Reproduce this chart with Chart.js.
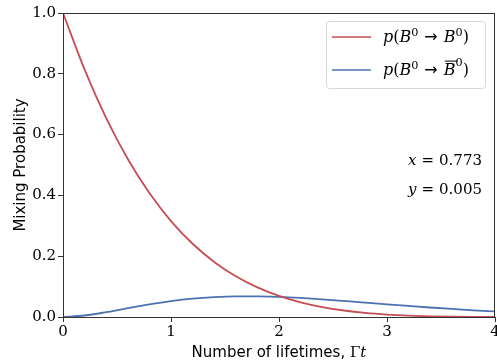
<!DOCTYPE html>
<html>
<head>
<meta charset="utf-8">
<script src="https://cdn.jsdelivr.net/npm/chart.js@4.4.1/dist/chart.umd.min.js"></script>
<style>
  html, body { margin: 0; padding: 0; background: #fff; }
  #wrap { width: 497px; height: 362px; position: relative; }
</style>
</head>
<body>
<div id="wrap"><canvas id="chartCanvas"></canvas></div>
<script>
// lifetimes (Gamma t) and the two probabilities read at each step
const lifetimes = [0, 0.2, 0.4, 0.6, 0.8, 1.0, 1.2, 1.4, 1.6, 1.8, 2.0,
                   2.2, 2.4, 2.6, 2.8, 3.0, 3.2, 3.4, 3.6, 3.8, 4.0];
const pUnmixed = [1.0000, 0.8139, 0.6544, 0.5198, 0.4077, 0.3156, 0.2409, 0.1812, 0.1340, 0.0974, 0.0693,
                  0.0482, 0.0326, 0.0214, 0.0134, 0.0080, 0.0044, 0.0022, 0.0009, 0.0002, 0.0000];
const pMixed = [0.0000, 0.0049, 0.0159, 0.0290, 0.0416, 0.0523, 0.0603, 0.0654, 0.0679, 0.0679, 0.0660,
                0.0626, 0.0581, 0.0529, 0.0474, 0.0418, 0.0364, 0.0312, 0.0265, 0.0221, 0.0183];
const xTicks = [0, 1, 2, 3, 4];
const yTicks = [0.0, 0.2, 0.4, 0.6, 0.8, 1.0];

const RED = '#c44e52';
const BLUE = '#4c72b0';
const SERIF = '"DejaVu Serif", "Liberation Serif", serif';
const SANS = '"DejaVu Sans", "Noto Sans", sans-serif';

// draw a run of math-ish text pieces, left to right
function drawRuns(ctx, runs, x, y, size) {
    let cx = x;
    runs.forEach(r => {
        const s = r.sup ? size * 0.7 : size;
        ctx.font = (r.i ? 'italic ' : '') + s + 'px ' + (r.sans ? SANS : SERIF);
        const dy = r.sup ? -size * (r.high ? 0.55 : 0.4) : 0;
        ctx.fillText(r.t, cx + (r.pre || 0), y + dy);
        const w = ctx.measureText(r.t).width;
        if (r.bar) {
            ctx.fillRect(cx + 1, y - size * 0.9, w + 1, 1);
        }
        cx += w + (r.pre || 0) + (r.gap || 0);
    });
    return cx - x;
}
function measureRuns(ctx, runs, size) {
    let w = 0;
    runs.forEach(r => {
        const s = r.sup ? size * 0.7 : size;
        ctx.font = (r.i ? 'italic ' : '') + s + 'px ' + (r.sans ? SANS : SERIF);
        w += ctx.measureText(r.t).width + (r.pre || 0) + (r.gap || 0);
    });
    return w;
}

const decorations = {
    id: 'decorations',
    afterDraw(chart) {
        const ctx = chart.ctx;
        const a = chart.chartArea;
        ctx.save();

        // full frame around the plot
        ctx.strokeStyle = '#333';
        ctx.lineWidth = 1;
        ctx.strokeRect(a.left + 0.5, a.top + 0.5, a.right - a.left - 1, a.bottom - a.top);

        ctx.textBaseline = 'alphabetic';

        // legend box
        ctx.fillStyle = 'rgba(255,255,255,0.8)';
        ctx.strokeStyle = '#d8d8d8';
        ctx.beginPath();
        ctx.roundRect(326.5, 21.5, 159, 67, 3);
        ctx.fill();
        ctx.stroke();

        const entries = [
            { color: RED, y: 37, bar: false },
            { color: BLUE, y: 70, bar: true }
        ];
        entries.forEach(e => {
            ctx.strokeStyle = e.color;
            ctx.lineWidth = 1.6;
            ctx.beginPath();
            ctx.moveTo(332, e.y);
            ctx.lineTo(371, e.y);
            ctx.stroke();
            ctx.fillStyle = '#000';
            drawRuns(ctx, [
                { t: 'p', i: true }, { t: '(' }, { t: 'B', i: true }, { t: '0', sup: true, gap: 6 },
                { t: '→', sans: true, gap: 6 }, { t: 'B', i: true, bar: e.bar },
                { t: '0', sup: true, high: e.bar }, { t: ')' }
            ], 383, e.y + 5, 16);
        });

        // parameter annotation, right aligned
        ctx.fillStyle = '#000';
        [
            [{ t: 'x', i: true, gap: 5 }, { t: '=', gap: 5 }, { t: '0.773' }],
            [{ t: 'y', i: true, gap: 5 }, { t: '=', gap: 5 }, { t: '0.005' }]
        ].forEach((runs, k) => {
            const w = measureRuns(ctx, runs, 15);
            drawRuns(ctx, runs, 482 - w, 165 + k * 29, 15);
        });

        // axis titles
        const xRuns = [{ t: 'Number of lifetimes, ', sans: true }, { t: 'Γ' }, { t: 't', i: true }];
        const xw = measureRuns(ctx, xRuns, 15);
        drawRuns(ctx, xRuns, (a.left + a.right) / 2 - xw / 2, 357, 15);

        ctx.translate(25, (a.top + a.bottom) / 2);
        ctx.rotate(-Math.PI / 2);
        ctx.font = '15px ' + SANS;
        ctx.textAlign = 'center';
        ctx.fillText('Mixing Probability', 0, 0);

        ctx.restore();
    }
};

const ctx = document.getElementById('chartCanvas').getContext('2d');
new Chart(ctx, {
    type: 'line',
    data: {
        datasets: [
            {
                label: 'p(B0 -> B0)',
                data: lifetimes.map((t, i) => ({ x: t, y: pUnmixed[i] })),
                borderColor: RED,
                borderWidth: 1.8,
                pointRadius: 0,
                cubicInterpolationMode: 'monotone'
            },
            {
                label: 'p(B0 -> B0bar)',
                data: lifetimes.map((t, i) => ({ x: t, y: pMixed[i] })),
                borderColor: BLUE,
                borderWidth: 1.8,
                pointRadius: 0,
                cubicInterpolationMode: 'monotone'
            }
        ]
    },
    options: {
        responsive: true,
        maintainAspectRatio: false,
        animation: false,
        layout: { padding: { top: 13, right: 2, left: 0, bottom: 0 } },
        plugins: { legend: { display: false }, tooltip: { enabled: false } },
        scales: {
            x: {
                type: 'linear',
                min: 0,
                max: 4,
                afterBuildTicks: s => { s.ticks = xTicks.map(v => ({ value: v })); },
                afterFit: s => { s.height = 45; s.paddingLeft = 0; s.paddingRight = 0; },
                grid: { drawOnChartArea: false, drawTicks: true, tickLength: 5, color: '#333' },
                border: { display: true, color: '#333' },
                ticks: { color: '#000', padding: 1, font: { family: SERIF, size: 15 } }
            },
            y: {
                min: 0,
                max: 1,
                afterBuildTicks: s => { s.ticks = yTicks.map(v => ({ value: v })); },
                afterFit: s => { s.width = 63; s.paddingTop = 0; s.paddingBottom = 0; },
                grid: { drawOnChartArea: false, drawTicks: true, tickLength: 5, color: '#333' },
                border: { display: true, color: '#333' },
                ticks: {
                    color: '#000',
                    padding: 2,
                    font: { family: SERIF, size: 15 },
                    callback: v => v.toFixed(1)
                }
            }
        }
    },
    plugins: [decorations]
});
</script>
</body>
</html>
